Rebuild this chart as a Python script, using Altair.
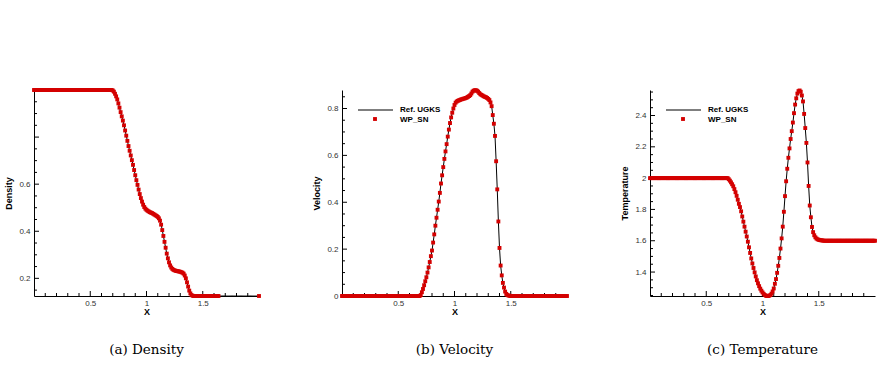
import altair as alt
import pandas as pd

# ---------------- data ----------------
X = [round(0.01 * i, 2) for i in range(201)]  # grid 0.00 .. 2.00

DENSITY = [1.0] * 70 + [
    0.998, 0.993, 0.984, 0.973, 0.96, 0.943, 0.925, 0.906, 0.888, 0.87,
    0.85, 0.828, 0.806, 0.784, 0.762, 0.742, 0.722, 0.702, 0.682, 0.66,
    0.638, 0.617, 0.597, 0.577, 0.558, 0.541, 0.526, 0.513, 0.503, 0.496,
    0.491, 0.487, 0.484, 0.481, 0.479, 0.477, 0.474, 0.471, 0.468, 0.465,
    0.461, 0.455, 0.445, 0.428, 0.405, 0.38, 0.355, 0.33, 0.305, 0.285,
    0.268, 0.255, 0.246, 0.24, 0.236, 0.234, 0.232, 0.231, 0.23, 0.229,
    0.228, 0.226, 0.224, 0.22, 0.212, 0.2, 0.183, 0.165, 0.148, 0.136,
    0.129, 0.126, 0.125,
] + [0.125] * 58

VELOCITY = [0.0] * 70 + [
    0.004, 0.016, 0.03, 0.046, 0.063, 0.08, 0.1, 0.122, 0.145, 0.17,
    0.194, 0.228, 0.263, 0.3, 0.334, 0.368, 0.403, 0.44, 0.48, 0.515,
    0.55, 0.585, 0.617, 0.648, 0.68, 0.71, 0.738, 0.762, 0.782, 0.8,
    0.815, 0.825, 0.83, 0.833, 0.835, 0.837, 0.839, 0.84, 0.842, 0.843,
    0.845, 0.847, 0.85, 0.853, 0.857, 0.864, 0.872, 0.876, 0.878, 0.878,
    0.876, 0.872, 0.866, 0.861, 0.858, 0.855, 0.852, 0.85, 0.848, 0.845,
    0.841, 0.836, 0.826, 0.81, 0.772, 0.735, 0.683, 0.575, 0.455, 0.318,
    0.205, 0.13, 0.088, 0.056, 0.036, 0.019, 0.009, 0.004, 0.002, 0.001,
] + [0.0] * 51

TEMPERATURE = [2.0] * 70 + [
    1.993, 1.984, 1.973, 1.961, 1.948, 1.93, 1.91, 1.887, 1.862, 1.836,
    1.815, 1.788, 1.755, 1.722, 1.69, 1.658, 1.627, 1.594, 1.558, 1.522,
    1.487, 1.455, 1.426, 1.398, 1.372, 1.348, 1.328, 1.31, 1.294, 1.281,
    1.27, 1.261, 1.254, 1.249, 1.247, 1.247, 1.249, 1.253, 1.262, 1.276,
    1.295, 1.325, 1.355, 1.395, 1.44, 1.49, 1.55, 1.615, 1.69, 1.785,
    1.885, 1.98, 2.06, 2.13, 2.19, 2.25, 2.3, 2.355, 2.415, 2.47,
    2.51, 2.54, 2.556, 2.56, 2.552, 2.528, 2.49, 2.41, 2.32, 2.225,
    2.1, 1.95, 1.825, 1.75, 1.688, 1.655, 1.635, 1.622, 1.614, 1.609,
    1.606, 1.604, 1.603, 1.602, 1.601,
] + [1.6] * 46

# WP_SN density markers stop at x = 1.64 (plus the final point at x = 2)
DENSITY_MARKER_X = [x for x in X if x <= 1.64] + [2.0]

SERIES = ["Ref. UGKS", "WP_SN"]
CAPTIONS = ["(a) Density", "(b) Velocity", "(c) Temperature"]
YTITLES = ["Density", "Velocity", "Temperature"]

X_LABELS = [0.5, 1.0, 1.5]
X_MINOR = [0.1, 0.2, 0.3, 0.4, 0.6, 0.7, 0.8, 0.9, 1.1, 1.2, 1.3, 1.4, 1.6, 1.7, 1.8, 1.9]

Y_DOMAINS = [[0.125, 1.0], [0.0, 0.879], [1.247, 2.563]]
Y_LABELS = [[0.2, 0.4, 0.6], [0.0, 0.2, 0.4, 0.6, 0.8], [1.4, 1.6, 1.8, 2.0, 2.2, 2.4]]
Y_MAJOR = [[0.2, 0.4, 0.6, 0.8], [0.2, 0.4, 0.6, 0.8], [1.4, 1.6, 1.8, 2.0, 2.2, 2.4]]
Y_MINOR = [
    [0.15, 0.25, 0.3, 0.35, 0.45, 0.5, 0.55, 0.65, 0.7, 0.75, 0.85, 0.9, 0.95],
    [0.05, 0.1, 0.15, 0.25, 0.3, 0.35, 0.45, 0.5, 0.55, 0.65, 0.7, 0.75, 0.85],
    [1.25, 1.3, 1.35, 1.45, 1.5, 1.55, 1.65, 1.7, 1.75, 1.85, 1.9, 1.95,
     2.05, 2.1, 2.15, 2.25, 2.3, 2.35, 2.45, 2.5, 2.55],
]

# ---------------- styling ----------------
RED = "#d40000"
W, H = 225, 206
SANS = "Liberation Sans"


def panel(values, marker_x, idx, legend):
    df = pd.DataFrame({"x": X, "y": values})
    mdf = df[df["x"].isin(marker_x)]
    xs = alt.Scale(domain=[0, 2], nice=False, zero=False)
    ys = alt.Scale(domain=Y_DOMAINS[idx], nice=False, zero=False)

    xaxis = alt.Axis(values=X_LABELS, format=".1~f", title="X", ticks=False,
                     grid=False, labelPadding=3, titlePadding=0)
    yaxis = alt.Axis(values=Y_LABELS[idx], format=".1~f", title=YTITLES[idx],
                     ticks=False, grid=False, labelPadding=4, titlePadding=5)

    line = alt.Chart(df).mark_line(color="black", strokeWidth=1).encode(
        x=alt.X("x:Q", scale=xs, axis=xaxis),
        y=alt.Y("y:Q", scale=ys, axis=yaxis),
    )
    pts = alt.Chart(mdf).mark_square(size=15, color=RED, opacity=1).encode(
        x=alt.X("x:Q", scale=xs),
        y=alt.Y("y:Q", scale=ys),
    )

    def xticks(vals, length):
        return alt.Chart(pd.DataFrame({"t": vals})).mark_rule(
            color="black", strokeWidth=1
        ).encode(
            x=alt.X("t:Q", scale=xs),
            y=alt.value(H), y2=alt.value(H - length),
        )

    def yticks(vals, length):
        return alt.Chart(pd.DataFrame({"t": vals})).mark_rule(
            color="black", strokeWidth=1
        ).encode(
            y=alt.Y("t:Q", scale=ys),
            x=alt.value(0), x2=alt.value(length),
        )

    layers = [
        line,
        xticks(X_MINOR, 3), xticks(X_LABELS, 5),
        yticks(Y_MINOR[idx], 3), yticks(Y_MAJOR[idx], 5),
        pts,
    ]

    if legend:
        ldf = pd.DataFrame({"label": SERIES})
        leg_line = alt.Chart(ldf.iloc[[0]]).mark_rule(
            color="black", strokeWidth=1.2
        ).encode(x=alt.value(16), x2=alt.value(51), y=alt.value(20))
        leg_pt = alt.Chart(ldf.iloc[[1]]).mark_square(
            size=15, color=RED, opacity=1
        ).encode(x=alt.value(33), y=alt.value(29))
        leg_t1 = alt.Chart(ldf.iloc[[0]]).mark_text(
            align="left", baseline="middle", font=SANS, fontSize=8,
            fontWeight="bold", color="black"
        ).encode(x=alt.value(58), y=alt.value(20), text="label:N")
        leg_t2 = alt.Chart(ldf.iloc[[1]]).mark_text(
            align="left", baseline="middle", font=SANS, fontSize=8,
            fontWeight="bold", color="black"
        ).encode(x=alt.value(58), y=alt.value(29.5), text="label:N")
        layers += [leg_line, leg_pt, leg_t1, leg_t2]

    return alt.layer(*layers).properties(
        width=W, height=H,
        title=alt.TitleParams(
            CAPTIONS[idx], orient="bottom", anchor="middle", font="DejaVu Serif",
            fontSize=13.5, fontWeight="normal", color="black", offset=27,
        ),
    )


p1 = panel(DENSITY, DENSITY_MARKER_X, 0, False)
p2 = panel(VELOCITY, X, 1, True)
p3 = panel(TEMPERATURE, X, 2, True)

chart = alt.hconcat(p1, p2, p3, spacing=83, bounds="flush").properties(
    padding={"left": 4, "top": 88, "right": 5, "bottom": 5},
    background="white",
).configure_view(stroke=None).configure_axis(
    domainColor="black", domainWidth=1,
    labelFont=SANS, labelFontSize=8, labelColor="#333",
    titleFont=SANS, titleFontSize=9, titleFontWeight="bold", titleColor="black",
)

chart.save("out.html", embed_options={"renderer": "svg", "actions": False})
